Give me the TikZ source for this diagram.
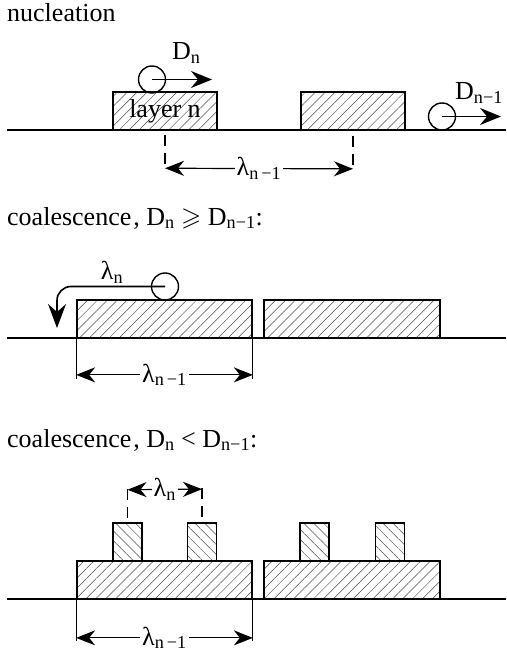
\documentclass[tikz,border=0pt]{standalone}
\usepackage{fontspec}
\usepackage{amssymb}
\setmainfont{Liberation Serif}
\usetikzlibrary{arrows.meta,patterns.meta}

\tikzset{
  layer/.style={draw, line width=1.7pt, inner sep=0pt, minimum height=38,
    pattern={Lines[angle=45,distance=7pt,line width=0.5pt]}, pattern color=black!70},
  island/.style={draw, line width=1.7pt, inner sep=0pt, minimum width=29, minimum height=38,
    pattern={Lines[angle=-45,distance=7pt,line width=0.5pt]}, pattern color=black!70},
  adatom/.style={draw, circle, line width=1.4pt, minimum size=27, inner sep=0pt},
  jump/.style={line width=1.6pt, -{Stealth[length=21pt,width=17pt,inset=7pt]}},
  hop/.style={line width=1.6pt, -{Stealth[length=24pt,width=18pt,inset=8pt]}},
  dimarrow/.style={line width=1.2pt, {Stealth[length=19pt,width=15pt,inset=6pt]}-{Stealth[length=19pt,width=15pt,inset=6pt]}},
  tickdash/.style={line width=1.1pt, dash pattern=on 11pt off 7pt},
  tickline/.style={line width=1.1pt},
  dimlbl/.style={fill=white, inner sep=2pt},
  title/.style={anchor=base west, inner sep=0pt},
  substrate/.style={line width=1.7pt},
}

\begin{document}
\begin{tikzpicture}[x=1pt,y=-1pt, font=\fontsize{26}{31}\selectfont]
\useasboundingbox (0,0) rectangle (506,655);

% nucleation
\node[title] (t1) at (7,22) {nucleation};
\draw[substrate] (7,130) -- (506,130);
\node[layer, minimum width=104] (b1) at (165,111) {layer n};
\node[layer, minimum width=104] (b2) at (353,111) {};
\node[adatom] (c1) at (152,79.5) {};
\coordinate (c1e) at (212,79.5);
\draw[jump] (c1.center) -- (c1e);
\node[anchor=base west, inner sep=0pt] (l1) at (172,60) {D\textsubscript{n}};
\node[adatom] (c2) at (442,116.5) {};
\coordinate (c2e) at (501,116.5);
\draw[jump] (c2.center) -- (c2e);
\node[anchor=base west, inner sep=0pt] (l2) at (455,100) {D\textsubscript{n−1}};
\coordinate (d1l) at ([yshift=-38pt]b1.south);
\coordinate (d1r) at ([yshift=-38pt]b2.south);
\draw[tickdash] ([yshift=-5pt]b1.south) -- (d1l);
\draw[tickdash] ([yshift=-5pt]b2.south) -- (d1r);
\draw[dimarrow] (d1l) -- node[dimlbl] (l3) {λ\textsubscript{n\,−1}} (d1r);

% coalescence, D_n >= D_{n-1}
\node[title] (t2) at (7,225) {coalescence\kern2pt, D\textsubscript{n} $\geqslant$ D\textsubscript{n−1}:};
\draw[substrate] (7,338) -- (506,338);
\node[layer, minimum width=175] (b3) at (164.5,319) {};
\node[layer, minimum width=176] (b4) at (352,319) {};
\node[adatom] (c3) at (165,286.5) {};
\coordinate (c3e) at (57,328);
\draw[hop, rounded corners=14pt] (c3.center) -| (c3e);
\node[inner sep=0pt] (l4) at (112,272) {λ\textsubscript{n}};
\coordinate (d2l) at ([yshift=-36pt]b3.south west);
\coordinate (d2r) at ([yshift=-36pt]b3.south east);
\draw[tickline] (b3.south west) -- ([yshift=-4pt]d2l);
\draw[tickline] (b3.south east) -- ([yshift=-4pt]d2r);
\draw[dimarrow] (d2l) -- node[dimlbl] (l5) {λ\textsubscript{n\,−1}} (d2r);

% coalescence, D_n < D_{n-1}
\node[title] (t3) at (7,447) {coalescence\kern2pt, D\textsubscript{n} < D\textsubscript{n−1}:};
\draw[substrate] (7,599) -- (506,599);
\node[layer, minimum width=175] (b5) at (164.5,580) {};
\node[layer, minimum width=176] (b6) at (352,580) {};
\node[island] (s1) at (127.5,542) {};
\node[island] (s2) at (202,542) {};
\node[island] (s3) at (314.5,542) {};
\node[island] (s4) at (390,542) {};
\coordinate (d3l) at ([yshift=33pt]s1.north);
\coordinate (d3r) at ([yshift=33pt]s2.north);
\draw[tickdash] ([yshift=5pt]s1.north) -- ([yshift=3pt]d3l);
\draw[tickdash] ([yshift=5pt]s2.north) -- ([yshift=3pt]d3r);
\draw[dimarrow] (d3l) -- node[dimlbl] (l6) {λ\textsubscript{n}} (d3r);
\coordinate (d4l) at ([yshift=-38pt]b5.south west);
\coordinate (d4r) at ([yshift=-38pt]b5.south east);
\draw[tickline] (b5.south west) -- ([yshift=-3pt]d4l);
\draw[tickline] (b5.south east) -- ([yshift=-3pt]d4r);
\draw[dimarrow] (d4l) -- node[dimlbl] (l7) {λ\textsubscript{n\,−1}} (d4r);
\end{tikzpicture}
\end{document}
